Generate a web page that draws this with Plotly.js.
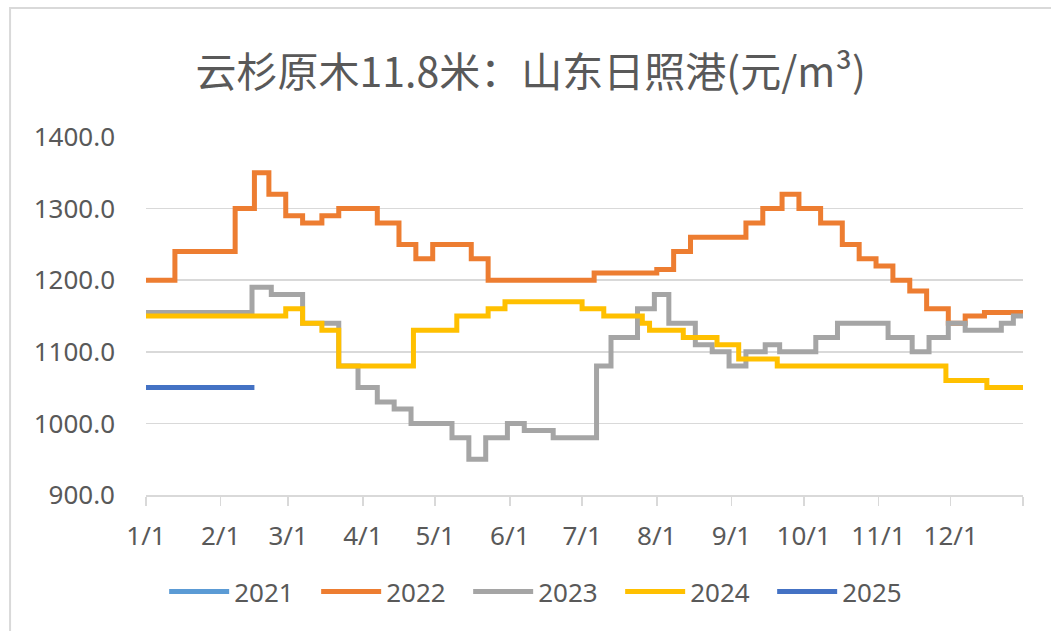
<!DOCTYPE html>
<html>
<head>
<meta charset="utf-8">
<script src="https://cdn.plot.ly/plotly-3.0.1.min.js"></script>
<style>html,body{margin:0;padding:0;background:#fff;}#chart{width:1051px;height:631px;}</style>
</head>
<body>
<div id="chart"></div>
<script>
// Change points (month-day) and values for step series; year is a dummy common year
const dates2021 = [];
const vals2021 = [];

const dates2022 = ["01-01","01-13","02-07","02-15","02-21","02-28","03-07","03-15","03-22","04-07","04-16","04-23","04-30","05-16","05-23","07-06","08-01","08-08","08-15","09-07","09-14","09-22","09-29","10-08","10-17","10-24","10-31","11-07","11-14","11-21","11-30","12-07","12-15","12-31"];
const vals2022 = [1200,1240,1300,1350,1320,1290,1280,1290,1300,1280,1250,1230,1250,1230,1200,1210,1215,1240,1260,1280,1300,1320,1300,1280,1250,1230,1220,1200,1185,1160,1140,1150,1155,1155];

const dates2023 = ["01-01","02-14","02-22","03-07","03-22","03-30","04-07","04-14","04-21","05-08","05-15","05-22","05-31","06-07","06-19","07-07","07-13","07-24","07-31","08-06","08-17","08-24","08-31","09-07","09-15","09-21","10-06","10-15","11-05","11-15","11-22","11-30","12-07","12-22","12-27","12-31"];
const vals2023 = [1155,1190,1180,1140,1080,1050,1030,1020,1000,980,950,980,1000,990,980,1080,1120,1160,1180,1140,1110,1100,1080,1100,1110,1100,1120,1140,1120,1100,1120,1140,1130,1140,1150,1150];

const dates2024 = ["01-01","02-28","03-07","03-15","03-22","04-22","05-10","05-23","05-30","07-01","07-10","07-26","07-29","08-12","08-26","09-04","09-20","11-29","12-16","12-31"];
const vals2024 = [1150,1160,1140,1130,1080,1130,1150,1160,1170,1160,1150,1140,1130,1120,1110,1090,1080,1060,1050,1050];

const dates2025 = ["01-01","02-15"];
const vals2025 = [1050,1050];

const seriesNames = ["2021","2022","2023","2024","2025"];
const seriesColors = ["#5B9BD5","#ED7D31","#A5A5A5","#FFC000","#4472C4"];

const tickDates = ["01-01","02-01","03-01","04-01","05-01","06-01","07-01","08-01","09-01","10-01","11-01","12-01","12-31"];
const tickLabels = ["1/1","2/1","3/1","4/1","5/1","6/1","7/1","8/1","9/1","10/1","11/1","12/1",""];

const Y = "2022-";
const toD = arr => arr.map(d => Y + d);

const allDates = [dates2021, dates2022, dates2023, dates2024, dates2025];
const allVals = [vals2021, vals2022, vals2023, vals2024, vals2025];

const traces = seriesNames.map((n, i) => ({
  x: allDates[i].length ? toD(allDates[i]) : [null],
  y: allVals[i].length ? allVals[i] : [null],
  name: n,
  type: "scatter",
  mode: "lines",
  line: {color: seriesColors[i], width: 5, shape: "hv"},
  showlegend: true
}));

const txt = "#595959";
const fontFam = "'Noto Sans', 'Noto Sans CJK SC', sans-serif";

const layout = {
  width: 1051, height: 631,
  margin: {l: 146, r: 28, t: 137, b: 136, pad: 0, autoexpand: false},
  paper_bgcolor: "#fff", plot_bgcolor: "#fff",
  title: {text: "云杉原木11.8米：山东日照港(元/m³)", x: 0.505, xanchor: "center", y: 0.885, yanchor: "middle",
          font: {family: "'Noto Sans CJK SC', sans-serif", size: 41, color: txt}},
  font: {family: fontFam, color: txt, size: 26},
  xaxis: {
    type: "date",
    range: [Y + "01-01", Y + "12-31"],
    tickvals: toD(tickDates), ticktext: tickLabels,
    ticks: "outside", ticklen: 9, tickcolor: "#d9d9d9", tickwidth: 1.5,
    showline: true, linecolor: "#d9d9d9", linewidth: 1.5,
    showgrid: false, zeroline: false,
    tickfont: {size: 26, color: txt, family: fontFam},
    ticklabelstandoff: 8,
    fixedrange: true
  },
  yaxis: {
    range: [900, 1400],
    tickvals: [900,1000,1100,1200,1300,1400],
    tickformat: ".1f",
    showgrid: true, gridcolor: "#d9d9d9", gridwidth: 1.5,
    showline: false, zeroline: false, ticks: "",
    tickfont: {size: 26, color: txt, family: fontFam},
    ticklabelstandoff: 30,
    fixedrange: true
  },
  legend: {
    orientation: "h", x: 0.454, xanchor: "center", y: -0.27, yanchor: "middle",
    font: {size: 26, color: txt, family: fontFam},
    itemwidth: 60, entrywidth: 77, entrywidthmode: "pixels",
    traceorder: "normal", bgcolor: "rgba(0,0,0,0)"
  },
  shapes: [{
    type: "rect", xref: "paper", yref: "paper",
    x0: -0.155, x1: 1.3, y0: -0.6, y1: 1.36,
    line: {color: "#d9d9d9", width: 2}, fillcolor: "rgba(0,0,0,0)", layer: "below"
  }],
  showlegend: true
};

Plotly.newPlot("chart", traces, layout, {displayModeBar: false, staticPlot: true});
</script>
</body>
</html>
